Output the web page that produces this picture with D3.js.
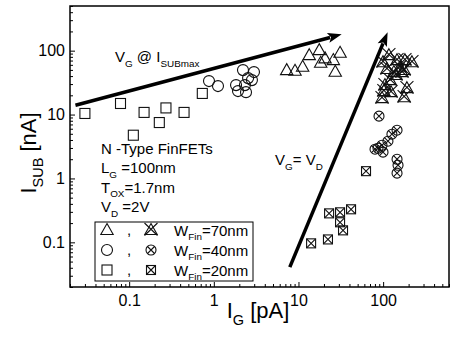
<!DOCTYPE html>
<html>
<head>
<meta charset="utf-8">
<title>ISUB vs IG</title>
<script src="https://d3js.org/d3.v7.min.js"></script>
<style>
  body { margin: 0; background: #fff; }
  text { font-family: "Liberation Sans", Arial, sans-serif; fill: #000; }
</style>
</head>
<body>
<script>

// open symbols: V_G @ I_SUBmax
var triX = [7.26, 9.1, 11.2, 13.4, 17.6, 20.6, 18.3, 25.8, 31.0, 27.2];
var triY = [49.6, 48.4, 56, 85, 102, 75.7, 64.6, 71.2, 92.7, 46.7];
var ciX = [0.877, 1.12, 2.21, 2.98, 2.54, 1.83, 2.33, 1.93, 2.40, 2.82];
var ciY = [33.4, 27.9, 49.6, 46.2, 37.2, 28.9, 28.9, 23.3, 22.4, 34.6];
var sqX = [0.030, 0.079, 0.112, 0.150, 0.227, 0.272, 0.445, 0.731];
var sqY = [10.4, 14.9, 4.75, 10.8, 7.5, 12.7, 10.8, 21.4];

// crossed symbols: V_G = V_D
var ctriX = [117, 99.7, 146, 181, 219, 158, 177, 111, 134, 121, 102, 124, 191, 177, 97, 167, 142, 105];
var ctriY = [85, 66, 71, 71, 66, 55, 49.7, 51.5, 46.2, 34.6, 23.3, 22.4, 25.9, 18.7, 18.1, 46.2, 41.5, 28.9];
var cciX = [89.4, 146, 127, 114, 97, 80.2, 99.7, 87, 146, 150, 146];
var cciY = [9.44, 5.69, 4.93, 3.83, 3.31, 2.87, 2.58, 2.97, 2.00, 1.61, 1.21];
var csqX = [14.1, 22.3, 23.0, 31.0, 41.8, 31.0, 33.6, 62.8];
var csqY = [0.0964, 0.111, 0.284, 0.295, 0.329, 0.206, 0.154, 1.30];

// arrows (data coords)
var arrowFrom = [[0.0232, 14.0], [7.9, 0.041]];
var arrowTo = [[32.4, 180], [113, 194]];

var xMajor = [0.1, 1, 10, 100];
var yMajor = [0.1, 1, 10, 100];
var xTickLabels = ["0.1", "1", "10", "100"];
var yTickLabels = ["0.1", "1", "10", "100"];

var legendWidths = ["70nm", "40nm", "20nm"];

var w = 460, h = 338;
var padL = 70, padR = 449, padT = 6, padB = 287;

var x = d3.scaleLog().domain([0.02, 600]).range([padL, padR]);
var y = d3.scaleLog().domain([0.02, 500]).range([padB, padT]);

var svg = d3.select("body").append("svg")
  .attr("width", w)
  .attr("height", h);

// minor ticks
var xMinor = x.ticks().filter(function(d) { return xMajor.indexOf(d) < 0; });
var yMinor = y.ticks().filter(function(d) { return yMajor.indexOf(d) < 0; });

svg.append("g")
  .attr("transform", "translate(0," + padB + ")")
  .call(d3.axisBottom(x).tickValues(xMinor).tickSize(-3).tickFormat(""))
  .call(function(g) { g.select(".domain").remove(); });

svg.append("g")
  .attr("transform", "translate(" + padL + ",0)")
  .call(d3.axisLeft(y).tickValues(yMinor).tickSize(-3).tickFormat(""))
  .call(function(g) { g.select(".domain").remove(); });

// major ticks with labels
var xAx = svg.append("g")
  .attr("transform", "translate(0," + padB + ")")
  .call(d3.axisBottom(x).tickValues(xMajor).tickSize(-5).tickPadding(8)
    .tickFormat(function(d, i) { return xTickLabels[i]; }));
xAx.select(".domain").remove();

var yAx = svg.append("g")
  .attr("transform", "translate(" + padL + ",0)")
  .call(d3.axisLeft(y).tickValues(yMajor).tickSize(-5).tickPadding(5)
    .tickFormat(function(d, i) { return yTickLabels[i]; }));
yAx.select(".domain").remove();

svg.selectAll(".tick line").attr("stroke", "#000").attr("stroke-width", 1);
svg.selectAll(".tick text")
  .attr("font-size", "16px")
  .attr("font-family", "Liberation Sans, Arial, sans-serif");

// frame
svg.append("rect")
  .attr("x", padL).attr("y", padT)
  .attr("width", padR - padL).attr("height", padB - padT)
  .attr("fill", "none").attr("stroke", "#000").attr("stroke-width", 1.5);

// text with subscripts
function richText(g, px, py, parts, size, anchor) {
  var t = g.append("text")
    .attr("x", px).attr("y", py)
    .attr("font-size", size + "px")
    .attr("text-anchor", anchor || "start");
  var shift = 0;
  parts.forEach(function(p) {
    var isSub = p[1];
    var target = isSub ? size * 0.32 : 0;
    t.append("tspan")
      .attr("dy", target - shift)
      .attr("font-size", (isSub ? size * 0.66 : size) + "px")
      .text(p[0]);
    shift = target;
  });
  return t;
}

// marker shapes
function drawMarker(g, kind, cx, cy) {
  var m = g.append("g").attr("transform", "translate(" + cx + "," + cy + ")")
    .attr("fill", "none").attr("stroke", "#111").attr("stroke-width", 1.1);
  if (kind === "tri" || kind === "ctri") {
    m.append("path").attr("d", "M0,-6.5L6.2,4.5L-6.2,4.5Z");
    if (kind === "ctri") {
      m.append("path").attr("d", "M-6.5,-7L6.5,5.5M6.5,-7L-6.5,5.5");
    }
  } else if (kind === "ci") {
    m.append("circle").attr("r", 5.5);
  } else if (kind === "cci") {
    m.append("circle").attr("r", 5);
    m.append("path").attr("d", "M-3.5,-3.5L3.5,3.5M3.5,-3.5L-3.5,3.5");
  } else if (kind === "sq") {
    m.append("rect").attr("x", -5).attr("y", -5).attr("width", 10).attr("height", 10);
  } else if (kind === "csq") {
    m.append("rect").attr("x", -4.5).attr("y", -4.5).attr("width", 9).attr("height", 9);
    m.append("path").attr("d", "M-4.5,-4.5L4.5,4.5M4.5,-4.5L-4.5,4.5");
  }
}

var pts = svg.append("g");
function plotSeries(xs, ys, kind) {
  xs.forEach(function(d, i) { drawMarker(pts, kind, x(d), y(ys[i])); });
}
plotSeries(sqX, sqY, "sq");
plotSeries(ciX, ciY, "ci");
plotSeries(triX, triY, "tri");
plotSeries(csqX, csqY, "csq");
plotSeries(cciX, cciY, "cci");
plotSeries(ctriX, ctriY, "ctri");

// arrows
arrowFrom.forEach(function(a, i) {
  var x0 = x(a[0]), y0 = y(a[1]);
  var x1 = x(arrowTo[i][0]), y1 = y(arrowTo[i][1]);
  var dx = x1 - x0, dy = y1 - y0, len = Math.sqrt(dx * dx + dy * dy);
  var ux = dx / len, uy = dy / len;
  var hl = 14, hw = 5;
  var bx = x1 - ux * hl, by = y1 - uy * hl;
  svg.append("line")
    .attr("x1", x0).attr("y1", y0)
    .attr("x2", bx + ux * 2).attr("y2", by + uy * 2)
    .attr("stroke", "#000").attr("stroke-width", 3.5);
  svg.append("path")
    .attr("d", "M" + x1 + "," + y1 +
      "L" + (bx - uy * hw) + "," + (by + ux * hw) +
      "L" + (bx + ux * 3) + "," + (by + uy * 3) +
      "L" + (bx + uy * hw) + "," + (by - ux * hw) + "Z")
    .attr("fill", "#000");
});

// annotations
richText(svg, 115, 62, [["V", 0], ["G", 1], [" @ I", 0], ["SUBmax", 1]], 15);
richText(svg, 275, 165, [["V", 0], ["G", 1], ["= V", 0], ["D", 1]], 15);
richText(svg, 101, 154, [["N -Type FinFETs", 0]], 15);
richText(svg, 101, 173, [["L", 0], ["G", 1], [" =100nm", 0]], 15);
richText(svg, 101, 192.5, [["T", 0], ["OX", 1], ["=1.7nm", 0]], 15);
richText(svg, 101, 212, [["V", 0], ["D", 1], [" =2V", 0]], 15);

// legend
var leg = svg.append("g");
leg.append("rect")
  .attr("x", 95).attr("y", 222).attr("width", 158).attr("height", 59)
  .attr("fill", "#fff").attr("stroke", "#000").attr("stroke-width", 1);
var legOpen = ["tri", "ci", "sq"];
var legCross = ["ctri", "cci", "csq"];
legendWidths.forEach(function(wd, i) {
  var cy = 230 + i * 20;
  drawMarker(leg, legOpen[i], 107, cy);
  drawMarker(leg, legCross[i], 151, cy);
  richText(leg, 127, cy + 5, [[",", 0]], 15);
  richText(leg, 174, cy + 5.5, [["W", 0], ["Fin", 1], ["=" + wd, 0]], 15);
});

// axis titles
richText(svg, 258, 318, [["I", 0], ["G", 1], [" [pA]", 0]], 22, "middle");
var yt = svg.append("g").attr("transform", "translate(36,153) rotate(-90)");
richText(yt, 0, 0, [["I", 0], ["SUB", 1], [" [nA]", 0]], 22, "middle");

</script>
</body>
</html>
